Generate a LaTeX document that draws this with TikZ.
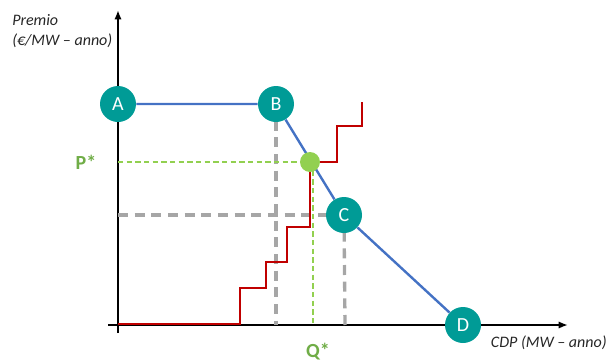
\documentclass[tikz,border=0pt]{standalone}
\usepackage{fontspec}
\setmainfont{Carlito}
\usetikzlibrary{arrows.meta,backgrounds}
\definecolor{ptteal}{RGB}{0,155,150}
\definecolor{curveblue}{RGB}{68,114,196}
\definecolor{stepred}{RGB}{192,0,0}
\definecolor{eqgreen}{RGB}{146,208,80}
\definecolor{labgreen}{RGB}{112,173,71}
\definecolor{guidegray}{RGB}{166,166,166}
\tikzset{
  point/.style={circle, fill=ptteal, text=white, minimum size=27pt, inner sep=0pt, font=\fontsize{15}{15}\selectfont},
  axlabel/.style={font=\fontsize{12}{14.5}\selectfont\itshape, text=black!85, align=left, inner sep=0pt},
  eqlabel/.style={font=\fontsize{15}{15}\selectfont\bfseries, text=labgreen, inner sep=0pt},
  guide/.style={guidegray, line width=2.5pt, dash pattern=on 7.5pt off 5pt},
  eqguide/.style={eqgreen, line width=1.2pt, dash pattern=on 4pt off 2.5pt},
  axis/.style={line width=1.5pt, -{Latex[length=7pt,width=5.5pt]}}
}
\begin{document}
\begin{tikzpicture}[x=0.75pt,y=-0.75pt]
\useasboundingbox (0,0) rectangle (608,361);
% points of the curve
\node (A) [point] at (118,104) {A};
\node (B) [point] at (276,104) {B};
\node (C) [point] at (344,215) {C};
\node (D) [point] at (463,325) {D};
\node (eq) [circle, fill=eqgreen, minimum size=15pt, inner sep=0pt] at (310,162) {};
% axes, guide lines and curves behind the points
\coordinate (orig) at (118,324);
\coordinate (ybot) at (118,333);
\coordinate (ytop) at (118,10);
\coordinate (xleft) at (108,325);
\coordinate (xright) at (568,325);
\coordinate (Bx) at (276,325);
\coordinate (Cx) at (345,325);
\coordinate (Cy) at (118,215);
\coordinate (Py) at (118,162);
\coordinate (Qtop) at (313,162);
\coordinate (Qx) at (313,325);
\begin{scope}[on background layer]
\draw[axis] (ybot) -- (ytop);
\draw[axis] (xleft) -- (xright);
\draw[guide] (B.center) -- (Bx);
\draw[guide] (C.center) -- (Cx);
\draw[guide] (Cy) -- (C.center);
\draw[eqguide] (Py) -- (eq.center);
\draw[eqguide] (Qtop) -- (Qx);
% offer steps
\draw[stepred, line width=1.6pt] (orig) -- (240,324) |- (266,288) |- (287,262) |- (310,227) |- (337,162) |- (362,126) -- (362,102);
% demand curve
\draw[curveblue, line width=1.8pt] (A) -- (B) -- (C) -- (D);
\end{scope}
% labels
\node (ylab) [axlabel, anchor=west] at (12,31) {Premio\\(€/MW – anno)};
\node (xlab) [axlabel, anchor=east] at (607,343) {CDP (MW – anno)};
\node (pstar) [eqlabel] at (86,162) {P*};
\node (qstar) [eqlabel] at (318,352) {Q*};
\end{tikzpicture}
\end{document}
